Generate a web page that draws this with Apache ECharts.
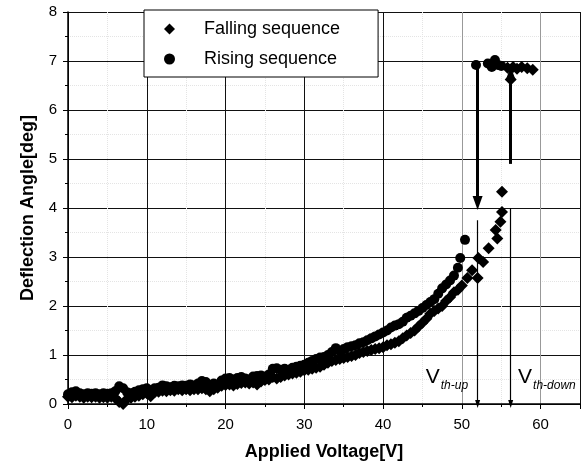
<!DOCTYPE html>
<html><head><meta charset="utf-8">
<script src="https://cdn.jsdelivr.net/npm/echarts@6/dist/echarts.min.js"></script>
<style>html,body{margin:0;padding:0;background:#fff}#c{width:584px;height:470px}</style>
</head><body><div id="c"></div>
<script>
const xTicks = [0, 10, 20, 30, 40, 50, 60];
const yTicks = [0, 1, 2, 3, 4, 5, 6, 7, 8];
const risingX = [0,0.5,1,1.5,2,2.5,3,3.5,4,4.5,5,5.5,6,6.5,7,7.5,8,8.5,9,9.5,10,10.5,11,11.5,12,12.5,13,13.5,14,14.5,15,15.5,16,16.5,17,17.5,18,18.5,19,19.5,20,20.5,21,21.5,22,22.5,23,23.5,24,24.5,25,25.5,26,26.5,27,27.5,28,28.5,29,29.5,30,30.5,31,31.5,32,32.5,33,33.5,34,34.5,35,35.5,36,36.5,37,37.5,38,38.5,39,39.5,40,40.5,41,41.5,42,42.5,43,43.5,44,44.5,45,45.5,46,46.5,47,47.5,48,48.5,49,49.5,49.8,50.4,51.8,53.3,53.8,54.2,54.6,55];
const risingY = [0.20,0.24,0.26,0.22,0.20,0.22,0.21,0.22,0.20,0.22,0.21,0.22,0.26,0.36,0.32,0.24,0.22,0.25,0.28,0.30,0.32,0.28,0.32,0.33,0.38,0.36,0.34,0.37,0.36,0.38,0.37,0.40,0.38,0.42,0.47,0.45,0.38,0.42,0.40,0.48,0.52,0.53,0.50,0.53,0.55,0.52,0.50,0.56,0.57,0.58,0.56,0.60,0.72,0.73,0.70,0.72,0.70,0.74,0.76,0.78,0.80,0.84,0.88,0.92,0.95,0.96,1.00,1.06,1.14,1.08,1.12,1.16,1.18,1.20,1.24,1.26,1.30,1.34,1.38,1.42,1.46,1.50,1.56,1.60,1.63,1.68,1.76,1.80,1.85,1.90,1.96,2.02,2.08,2.14,2.25,2.36,2.44,2.52,2.62,2.78,2.98,3.35,6.92,6.95,6.88,7.02,6.92,6.90];
const fallingX = [0,0.5,1,1.5,2,2.5,3,3.5,4,4.5,5,5.5,6,6.5,7,7.5,8,8.5,9,9.5,10,10.5,11,11.5,12,12.5,13,13.5,14,14.5,15,15.5,16,16.5,17,17.5,18,18.5,19,19.5,20,20.5,21,21.5,22,22.5,23,23.5,24,24.5,25,25.5,26,26.5,27,27.5,28,28.5,29,29.5,30,30.5,31,31.5,32,32.5,33,33.5,34,34.5,35,35.5,36,36.5,37,37.5,38,38.5,39,39.5,40,40.5,41,41.5,42,42.5,43,43.5,44,44.5,45,45.5,46,46.5,47,47.5,48,48.5,49,49.5,50,50.7,51.3,52,52.1,52.7,53.4,54.3,54.5,54.9,55.1,55.1,55.8,56.2,56.5,57,57.6,58.3,59];
const fallingY = [0.15,0.14,0.17,0.15,0.13,0.15,0.14,0.15,0.13,0.14,0.13,0.15,0.12,0.04,0.00,0.10,0.13,0.15,0.17,0.20,0.22,0.16,0.24,0.25,0.27,0.26,0.28,0.27,0.30,0.28,0.30,0.28,0.30,0.30,0.32,0.30,0.26,0.30,0.33,0.37,0.39,0.40,0.38,0.41,0.43,0.44,0.42,0.44,0.40,0.46,0.49,0.50,0.55,0.52,0.55,0.58,0.60,0.62,0.64,0.66,0.69,0.70,0.72,0.74,0.76,0.80,0.84,0.88,0.90,0.92,0.94,0.96,0.98,1.00,1.04,1.06,1.08,1.10,1.12,1.14,1.16,1.20,1.22,1.25,1.28,1.34,1.40,1.45,1.50,1.58,1.66,1.74,1.84,1.90,1.95,2.00,2.10,2.18,2.28,2.33,2.42,2.57,2.73,2.57,2.98,2.90,3.18,3.55,3.38,3.72,3.92,4.33,6.86,6.62,6.88,6.84,6.88,6.85,6.82];

const pair = (xs, ys) => xs.map((x, i) => [x, ys[i]]);
const F = 'Liberation Sans, Arial, sans-serif';
const chart = echarts.init(document.getElementById('c'));
chart.setOption({
  animation: false,
  backgroundColor: '#fff',
  grid: { left: 68, right: 4, top: 12, bottom: 66 },
  legend: {
    orient: 'vertical', left: 144, top: 10,
    backgroundColor: '#fff', borderColor: '#000', borderWidth: 1,
    padding: [10, 38, 9, 20], itemGap: 12, itemWidth: 11, itemHeight: 11,
    textStyle: { fontSize: 18, fontFamily: F, color: '#000', padding: [0, 0, 0, 24] },
    data: [{ name: 'Falling sequence', icon: 'diamond' }, { name: 'Rising sequence', icon: 'circle' }]
  },
  xAxis: {
    type: 'value', min: 0, max: 65, interval: 10,
    name: 'Applied Voltage[V]', nameLocation: 'middle', nameGap: 39,
    nameTextStyle: { fontSize: 18, fontWeight: 'bold', fontFamily: F, color: '#000' },
    axisLine: { lineStyle: { color: '#000', width: 1.5 } },
    axisTick: { show: true, length: 5, lineStyle: { color: '#000' } },
    minorTick: { show: true, splitNumber: 2, length: 3, lineStyle: { color: '#000' } },
    axisLabel: { fontSize: 15, fontFamily: F, color: '#000', margin: 13,
      formatter: v => xTicks.includes(v) ? String(v) : '' },
    splitLine: { show: true, lineStyle: { color: ['#111', '#111', '#111', '#111', '#111', '#999', '#999'], width: 1 } },
    minorSplitLine: { show: true, lineStyle: { color: '#e4e4e4', type: 'dotted' } }
  },
  yAxis: {
    type: 'value', min: 0, max: 8, interval: 1,
    name: 'Deflection Angle[deg]', nameLocation: 'middle', nameGap: 31,
    nameTextStyle: { fontSize: 18, fontWeight: 'bold', fontFamily: F, color: '#000' },
    axisLine: { show: true, lineStyle: { color: '#000', width: 1.5 } },
    axisTick: { show: true, length: 5, lineStyle: { color: '#000' } },
    minorTick: { show: true, splitNumber: 2, length: 3, lineStyle: { color: '#000' } },
    axisLabel: { fontSize: 15, fontFamily: F, color: '#000', margin: 11,
      formatter: v => yTicks.includes(v) ? String(v) : '' },
    splitLine: { show: true, lineStyle: { color: '#111', width: 1 } },
    minorSplitLine: { show: true, lineStyle: { color: '#e4e4e4', type: 'dotted' } }
  },
  series: [
    { name: 'Falling sequence', type: 'scatter', symbol: 'diamond', symbolSize: 12,
      itemStyle: { color: '#000', opacity: 1 }, data: pair(fallingX, fallingY), z: 3 },
    { name: 'Rising sequence', type: 'scatter', symbol: 'circle', symbolSize: 10,
      itemStyle: { color: '#000', opacity: 1 }, data: pair(risingX, risingY), z: 3 },
    { name: 'annot', type: 'line', data: [], silent: true,
      markLine: {
        silent: true, animation: false, label: { show: false },
        data: [
          [{ coord: [52, 6.9], symbol: 'none', lineStyle: { color: '#000', width: 3, type: 'solid' } },
           { coord: [52, 4.1], symbol: 'triangle', symbolSize: [10, 14] }],
          [{ coord: [56.2, 4.9], symbol: 'none', lineStyle: { color: '#000', width: 3, type: 'solid' } },
           { coord: [56.2, 6.75], symbol: 'triangle', symbolSize: [10, 14] }],
          [{ coord: [52, 3.75], symbol: 'none', lineStyle: { color: '#000', width: 1.2, type: 'solid' } },
           { coord: [52, 0], symbol: 'triangle', symbolSize: [5, 8] }],
          [{ coord: [56.2, 4.0], symbol: 'none', lineStyle: { color: '#000', width: 1.2, type: 'solid' } },
           { coord: [56.2, 0], symbol: 'triangle', symbolSize: [5, 8] }]
        ]
      },
      markPoint: {
        silent: true, symbol: 'circle', symbolSize: 0,
        data: [
          { coord: [48.1, 0.55], value: 'up' },
          { coord: [60.8, 0.55], value: 'down' }
        ],
        label: {
          show: true, position: 'inside',
          formatter: p => p.value === 'up' ? '{v|V}{s|th-up}' : '{v|V}{s|th-down}',
          rich: {
            v: { fontSize: 21, fontFamily: F, color: '#000', verticalAlign: 'bottom', lineHeight: 22 },
            s: { fontSize: 12, fontFamily: F, fontStyle: 'italic', color: '#000', verticalAlign: 'bottom', lineHeight: 14, padding: [0, 0, -4, 1] }
          }
        }
      }
    }
  ]
});
</script></body></html>
